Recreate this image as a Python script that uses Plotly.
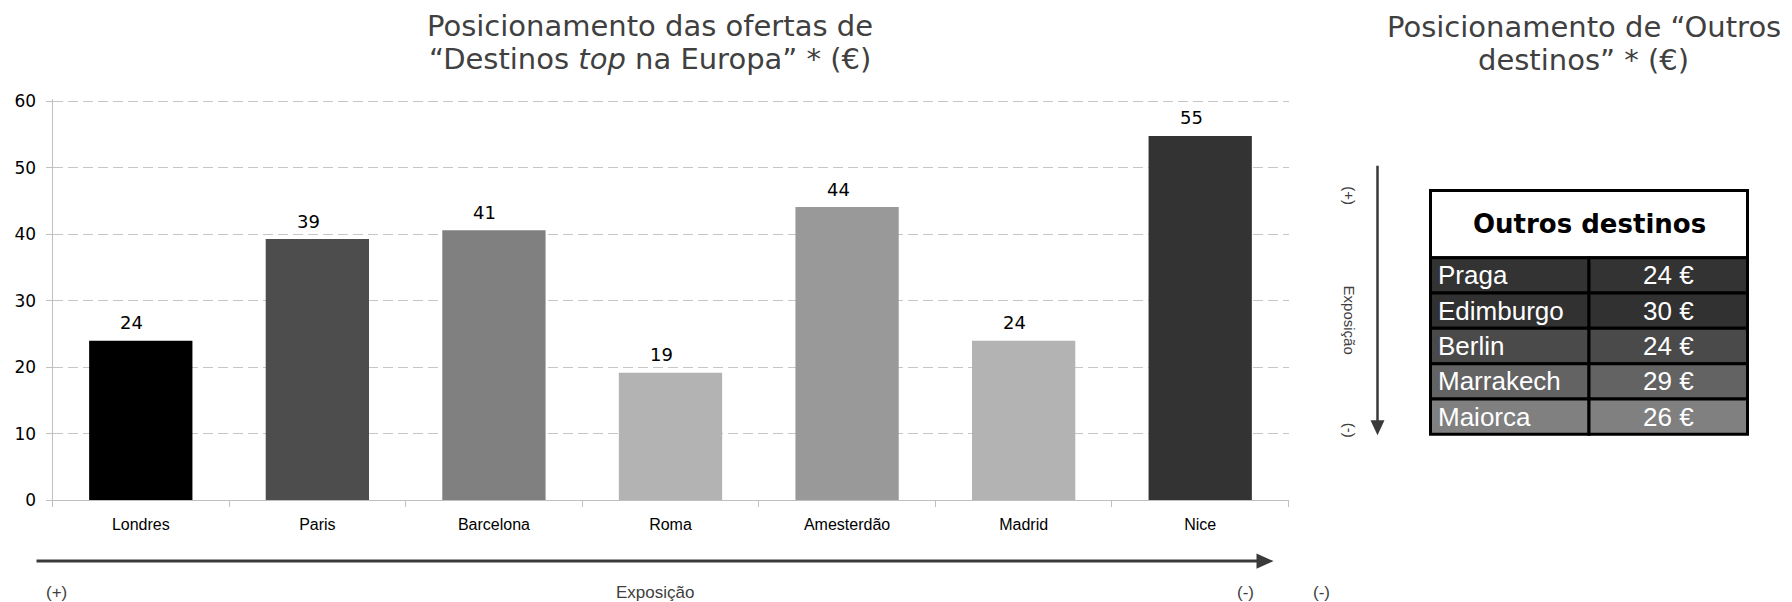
import plotly.graph_objects as go

# ---------------- data ----------------
cities = ["Londres", "Paris", "Barcelona", "Roma", "Amesterdão", "Madrid", "Nice"]
prices = [24, 39.3, 40.6, 19.2, 44.1, 24, 54.8]
bar_colors = ["#000000", "#4d4d4d", "#808080", "#b3b3b3", "#999999", "#b3b3b3", "#333333"]

other_dest = ["Praga", "Edimburgo", "Berlin", "Marrakech", "Maiorca"]
other_price = [24, 30, 24, 29, 26]
other_colors = ["#333333", "#313131", "#4a4a4a", "#636363", "#808080"]

y_ticks = [0, 10, 20, 30, 40, 50, 60]

title_left = ["Posicionamento das ofertas de", "“Destinos <i>top</i> na Europa” * (€)"]
title_right = ["Posicionamento de “Outros", "destinos” * (€)"]

# ---------------- geometry helpers (target pixel -> paper) ----------------
W, H = 1792, 602
OX, OY0, OY1 = 7.5, 16.6, 599.3   # observed plot-area placement in the photographed page
def PX(x):
    return (x - OX) / W
def PY(y):
    return (OY1 - y) / (OY1 - OY0)

TXT = "#404040"
AXC = "#bfbfbf"

fig = go.Figure()

fig.add_trace(go.Bar(
    x=cities, y=prices, marker=dict(color=bar_colors, line=dict(width=0)),
    width=0.585, showlegend=False, hoverinfo="x+y",
    xaxis="x", yaxis="y",
))

annotations = []
for c, v in zip(cities, prices):
    annotations.append(dict(
        x=c, y=v, xref="x", yref="y", text=f"{round(v):d}", showarrow=False,
        xshift=-9, yshift=18, yanchor="middle",
        font=dict(family="DejaVu Sans", size=18, color="#000000"),
    ))

# ---------------- table (drawn on hidden auxiliary axes) ----------------
HEADER = 1.9
n_rows = len(other_dest)
pad_x = 5 / 158.5
pad_y = 5 / 35.26
shapes = []
shapes.append(dict(type="rect", xref="x2", yref="y2", x0=0, x1=2, y0=0, y1=HEADER,
                   fillcolor="#ffffff", line=dict(color="#000000", width=3), layer="above"))
annotations.append(dict(x=1, y=HEADER / 2, xref="x2", yref="y2", text="<b>Outros destinos</b>",
                        showarrow=False, yanchor="middle", xanchor="center",
                        font=dict(family="DejaVu Sans", size=26, color="#000000")))
for i, (name, val, col) in enumerate(zip(other_dest, other_price, other_colors)):
    y0 = HEADER + i
    y1 = y0 + 1
    for cx0, cx1 in ((0, 1), (1, 2)):
        shapes.append(dict(type="rect", xref="x2", yref="y2", x0=cx0, x1=cx1, y0=y0, y1=y1,
                           fillcolor=col, line=dict(color="#000000", width=3), layer="above"))
    annotations.append(dict(x=0, y=y0 + 0.5, xref="x2", yref="y2", text=name, showarrow=False,
                            xanchor="left", yanchor="middle", xshift=5,
                            font=dict(family="Liberation Sans", size=26, color="#ffffff")))
    annotations.append(dict(x=1.5, y=y0 + 0.5, xref="x2", yref="y2", text=f"{val} €", showarrow=False,
                            xanchor="center", yanchor="middle",
                            font=dict(family="Liberation Sans", size=26, color="#ffffff")))

fig.add_trace(go.Scatter(x=[0, 2], y=[0, HEADER + n_rows], mode="markers",
                         marker=dict(opacity=0), xaxis="x2", yaxis="y2",
                         showlegend=False, hoverinfo="skip"))

# ---------------- titles (one annotation per line) ----------------
title_font = dict(family="DejaVu Sans", size=29, color=TXT)
for line, y in zip(title_left, (27, 60)):
    annotations.append(dict(x=PX(649), y=PY(y), xref="paper", yref="paper", text=line,
                            showarrow=False, xanchor="center", yanchor="middle", font=title_font))
for line, y in zip(title_right, (28, 61)):
    annotations.append(dict(x=PX(1583), y=PY(y), xref="paper", yref="paper", text=line,
                            showarrow=False, xanchor="center", yanchor="middle", font=title_font))

# ---------------- exposure arrows ----------------
ARC = "#3a3a3a"
shapes.append(dict(type="line", xref="paper", yref="paper", x0=PX(36), x1=PX(1258),
                   y0=PY(560.5), y1=PY(560.5), line=dict(color=ARC, width=3)))
shapes.append(dict(type="path", xref="paper", yref="paper",
                   path=f"M {PX(1256)} {PY(553)} L {PX(1273)} {PY(560.5)} L {PX(1256)} {PY(568)} Z",
                   fillcolor=ARC, line=dict(color=ARC, width=0)))
shapes.append(dict(type="line", xref="paper", yref="paper", x0=PX(1377), x1=PX(1377),
                   y0=PY(166), y1=PY(421), line=dict(color=ARC, width=2.5)))
shapes.append(dict(type="path", xref="paper", yref="paper",
                   path=f"M {PX(1370)} {PY(420)} L {PX(1377)} {PY(435)} L {PX(1384)} {PY(420)} Z",
                   fillcolor=ARC, line=dict(color=ARC, width=0)))

bottom_font = dict(family="Liberation Sans", size=17, color=TXT)
side_font = dict(family="Liberation Sans", size=15, color=TXT)
for txt, x, y in (("(+)", 55.5, 592), ("Exposição", 654, 592), ("(-)", 1245, 592), ("(-)", 1321, 592)):
    annotations.append(dict(x=PX(x), y=PY(y), xref="paper", yref="paper", text=txt,
                            showarrow=False, xanchor="center", yanchor="middle", font=bottom_font))
for txt, y in (("(+)", 196), ("Exposição", 320), ("(-)", 430)):
    annotations.append(dict(x=PX(1349), y=PY(y), xref="paper", yref="paper", text=txt,
                            showarrow=False, xanchor="center", yanchor="middle", textangle=90,
                            font=side_font))

Y_TOP = 60.3
fig.update_layout(
    width=W, height=H,
    margin=dict(l=0, r=0, t=0, b=0),
    paper_bgcolor="#ffffff", plot_bgcolor="#ffffff",
    xaxis=dict(
        domain=[PX(52), PX(1288)], type="category", categoryorder="array", categoryarray=cities,
        showline=True, linecolor=AXC, linewidth=1, ticks="outside", tickson="boundaries",
        ticklen=6, tickcolor=AXC, showgrid=False, zeroline=False,
        tickfont=dict(family="Liberation Sans", size=16, color="#000000"),
        ticklabelstandoff=9, anchor="y",
    ),
    yaxis=dict(
        domain=[PY(500), PY(500 - 398.3 * Y_TOP / 60)], range=[0, Y_TOP], tickvals=y_ticks,
        showline=True, linecolor=AXC, linewidth=1, ticks="outside", ticklen=6, tickcolor=AXC,
        showgrid=True, gridcolor="#c6c6c6", gridwidth=1, griddash="10px,5px",
        zeroline=False, tickfont=dict(family="DejaVu Sans", size=17, color="#000000"),
        ticklabelstandoff=6, anchor="x",
    ),
    xaxis2=dict(domain=[PX(1430 - 5), PX(1747 + 5)], range=[-pad_x, 2 + pad_x],
                visible=False, anchor="y2", fixedrange=True),
    yaxis2=dict(domain=[PY(434 + 5), PY(190.7 - 5)], range=[HEADER + n_rows + pad_y, -pad_y],
                visible=False, anchor="x2", fixedrange=True),
    shapes=shapes,
    annotations=annotations,
)

fig.write_html("out.html")
